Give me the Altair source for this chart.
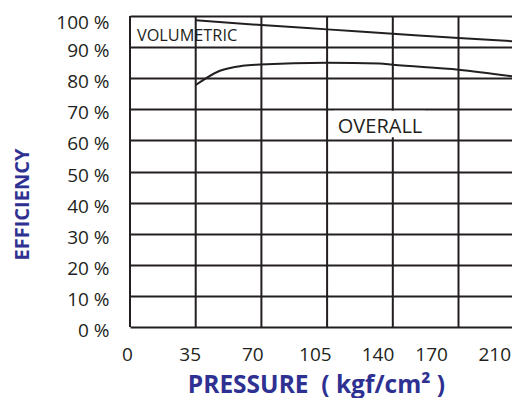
import altair as alt
import pandas as pd

INK = "#231f20"
BLUE = "#2E3192"
FONT = "Open Sans"

# grid positions (pressure, kgf/cm2) and efficiency ticks
grid_pressure = [0, 35, 70, 105, 140, 175]
eff_ticks = [0, 10, 20, 30, 40, 50, 60, 70, 80, 90, 100]
# printed pressure tick labels (own scale in the original picture)
tick_labels = [0, 35, 70, 105, 140, 170, 210]

# curves
vol_p = [35, 70, 105, 140, 175, 203.5]
vol_e = [98.6, 97.1, 95.7, 94.3, 92.9, 91.9]
ovr_p = [35, 47.9, 60, 69.3, 105, 133, 140, 175, 203.5]
ovr_e = [77.8, 82.4, 84.0, 84.4, 85.0, 84.7, 84.3, 82.7, 80.6]

# annotations
vol_label = ["VOLUMETRIC"]
vol_label_p = [30.4]
vol_label_e = [91.9]
ovr_label = ["OVERALL"]
ovr_label_p = [133.2]
ovr_label_e = [62.3]
box_p = [108.7, 157.2]
box_e = [61.0, 69.5]

curves = pd.DataFrame(
    {"p": vol_p + ovr_p,
     "e": vol_e + ovr_e,
     "s": ["VOLUMETRIC"] * len(vol_p) + ["OVERALL"] * len(ovr_p)}
)
grid_df = pd.DataFrame({"p": grid_pressure})
ticks_df = pd.DataFrame({"v": tick_labels})
vol_df = pd.DataFrame({"t": vol_label, "p": vol_label_p, "e": vol_label_e})
ovr_df = pd.DataFrame({"t": ovr_label, "p": ovr_label_p, "e": ovr_label_e})
box_df = pd.DataFrame({"p": [box_p[0]], "p2": [box_p[1]], "e": [box_e[0]], "e2": [box_e[1]]})

W, H = 382, 311
xs = alt.Scale(domain=[0, 203.5], nice=False, zero=False)
ys = alt.Scale(domain=[0, 100], nice=False)

yaxis = alt.Axis(
    values=eff_ticks, labelExpr="datum.value + ' %'", grid=True, gridColor=INK,
    gridWidth=2, gridOpacity=1, ticks=False, tickSize=0, domain=False,
    labelPadding=21, labelFont=FONT, labelFontSize=19, labelColor=INK,
    labelBaseline="alphabetic",
    labelOffset={"condition": {"test": "datum.value == 100", "value": 12.5}, "value": 9.5},
    labelOverlap=False, labelFlush=False,
    title="EFFICIENCY", titleX=-101.7, titleY=188, titleAngle=270,
    titleFont=FONT, titleFontSize=20, titleFontWeight="bold", titleColor=BLUE,
    titleAlign="center", titleBaseline="alphabetic",
)


def Y(field):
    return alt.Y(field, scale=ys, axis=yaxis)


rules = alt.Chart(grid_df).mark_rule(color=INK, strokeWidth=2).encode(
    x=alt.X("p:Q", scale=xs, axis=None),
    y=alt.value(0), y2=alt.value(H),
)

lines = alt.Chart(curves).mark_line(color=INK, strokeWidth=2, interpolate="monotone").encode(
    x=alt.X("p:Q", scale=xs, axis=None),
    y=Y("e:Q"),
    detail="s:N",
)

box = alt.Chart(box_df).mark_rect(color="white").encode(
    x=alt.X("p:Q", scale=xs, axis=None), x2="p2:Q",
    y=Y("e:Q"), y2="e2:Q",
)

vol_text = alt.Chart(vol_df).mark_text(
    font=FONT, fontSize=16.3, color=INK, align="center", baseline="alphabetic"
).encode(x=alt.X("p:Q", scale=xs, axis=None), y=Y("e:Q"), text="t:N")

ovr_text = alt.Chart(ovr_df).mark_text(
    font=FONT, fontSize=20, color=INK, align="center", baseline="alphabetic"
).encode(x=alt.X("p:Q", scale=xs, axis=None), y=Y("e:Q"), text="t:N")

main = alt.layer(rules, lines, box, vol_text, ovr_text)

label_axis = alt.Chart(ticks_df).mark_point(opacity=0).encode(
    x=alt.X(
        "v:Q",
        scale=alt.Scale(domain=[0, 213.5], nice=False, zero=False),
        axis=alt.Axis(
            values=tick_labels, orient="bottom", grid=False, ticks=False, tickSize=0,
            domain=False, labelFlush=False, labelOverlap=False, labelPadding=33,
            labelBaseline="alphabetic",
            labelOffset={"condition": {"test": "datum.value == 210", "value": -11.5}, "value": -3},
            labelFont=FONT, labelFontSize=19, labelColor=INK,
            title="PRESSURE\u00a0\u00a0(\u00a0kgf/cm²\u00a0)", titleX=186, titleY=65,
            titleAlign="center", titleBaseline="alphabetic", titleFont=FONT,
            titleFontSize=24.5, titleFontWeight="bold", titleColor=BLUE,
        ),
    ),
)

chart = alt.layer(main, label_axis).resolve_scale(x="independent").properties(
    width=W, height=H,
    autosize=alt.AutoSizeParams(type="none"),
    padding={"left": 122, "top": 8, "right": 0, "bottom": 71},
).configure_view(stroke=None)

chart.save("out.html", embed_options={"renderer": "svg", "actions": False})
